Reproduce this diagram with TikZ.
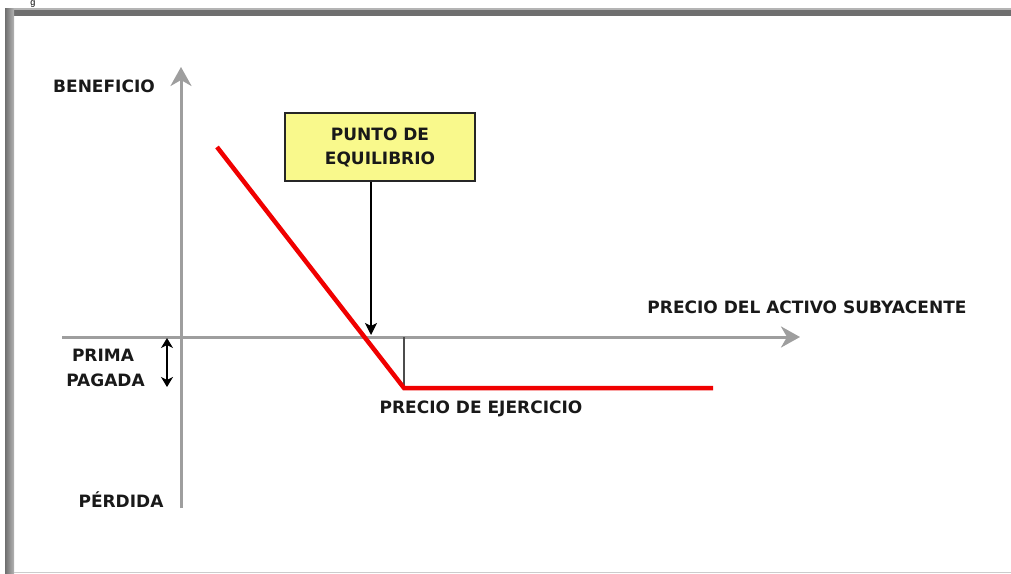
\documentclass[tikz,border=0pt]{standalone}
\usepackage{fontspec}
\setmainfont{DejaVu Sans}
\newfontfamily\capfont{Liberation Sans}
\usetikzlibrary{arrows.meta}
\definecolor{axisgray}{HTML}{9E9E9E}
\definecolor{boxyellow}{HTML}{F9F98C}
\definecolor{framedark}{HTML}{6E6E6E}
\definecolor{framelight}{HTML}{B4B4B4}
\definecolor{payred}{HTML}{F00000}
\begin{document}
\begin{tikzpicture}[x=1pt,y=-1pt,
  lbl/.style={font=\bfseries\fontsize{17}{24}\selectfont, text height=12.4pt, text depth=0pt, inner sep=0pt, text=black!90},
  eqbox/.style={draw=black!85, line width=1.3pt, fill=boxyellow, minimum width=190pt, minimum height=68pt, inner sep=0pt, align=center, font=\bfseries\fontsize{17}{24}\selectfont, text=black!90},
  axisline/.style={draw=axisgray, line width=3pt, -{Stealth[length=19pt,width=21pt,inset=6pt]}},
  payoff/.style={draw=payred, line width=4.5pt},
  pointer/.style={draw=black, line width=1.2pt, -{Stealth[length=12pt,width=12pt,inset=3pt]}},
  primaarrow/.style={draw=black, line width=1.5pt, {Stealth[length=10pt,width=12pt,inset=3pt]}-{Stealth[length=10pt,width=12pt,inset=3pt]}},
  strikeline/.style={draw=black!70, line width=1.5pt}]
\useasboundingbox (0,0) rectangle (1011,573);
\clip (0,0) rectangle (1011,573);
\fill[white] (0,0) rectangle (1011,573);
% caption fragment
\node[font=\capfont\fontsize{9}{9}\selectfont, anchor=base, inner sep=0pt] (g) at (33,5.5) {g};
% frame
\fill[framedark] (5,8) rectangle (1011,16);
\fill[framelight] (5,8) rectangle (1011,9.5);
\shade[left color=framedark, right color=framelight] (5,8) rectangle (14,573);
\draw[black!20, line width=1pt] (14,572) -- (1011,572);
% coordinates
\coordinate (ytop) at (181,67);
\coordinate (ybot) at (181,508);
\coordinate (xleft) at (62,337);
\coordinate (xright) at (800,337);
\coordinate (r1) at (217,147);
\coordinate (k) at (404,388);
\coordinate (kt) at (404,337);
\coordinate (r2) at (713,388);
\coordinate (eqtip) at (371,335);
\coordinate (pa) at (167,338);
\coordinate (pb) at (167,387);
% axes
\draw[axisline] (ybot) -- (ytop);
\draw[axisline] (xleft) -- (xright);
% strike marker
\draw[strikeline] (kt) -- (k);
% payoff
\draw[payoff, line join=miter] (r1) -- (k) -- (r2);
% labels
\node[lbl] (ben) at (104,86) {BENEFICIO};
\node[lbl] (per) at (121,501) {PÉRDIDA};
\node[lbl] (prima) at (103,355) {PRIMA};
\node[lbl] (pagada) at (105.5,380) {PAGADA};
\node[lbl] (ejer) at (481,407) {PRECIO DE EJERCICIO};
\node[lbl] (subya) at (807,307) {PRECIO DEL ACTIVO SUBYACENTE};
\node[eqbox] (eq) at (380,147) {PUNTO DE\\EQUILIBRIO};
% arrows
\draw[pointer] (eq.south -| eqtip) -- (eqtip);
\draw[primaarrow] (pa) -- (pb);
\end{tikzpicture}
\end{document}
